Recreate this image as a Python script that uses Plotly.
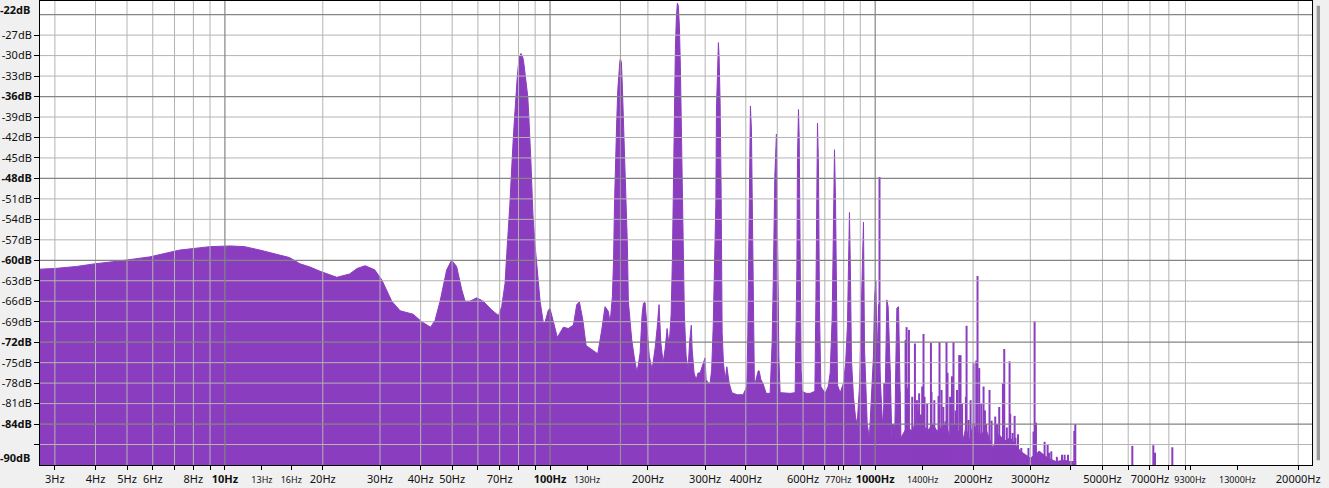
import math
import plotly.graph_objects as go

# ---------------- data ----------------
ENV_HZ = [2.70, 3.0, 3.5, 4.0, 4.75, 5.87, 7.27, 8.99, 10.4, 11.5, 12.8, 14.2, 15.8, 17.0, 18.3, 19.6,
          22.1, 24.2, 25.5, 27.0, 28.9, 30.4, 32.6, 34.6, 37.9, 40.3, 42.9, 44.3, 45.9, 48.1, 49.8, 51.6,
          53.5, 54.8, 56.7, 59.5, 62.3, 66.2, 69.4, 71.0, 72.7, 73.6, 74.4, 75.2, 75.9, 76.4, 77.1, 77.7,
          78.2, 78.8, 79.3, 80.1, 80.4, 81.4, 82.4, 83.0, 83.6, 84.4, 85.4, 86.0, 86.8, 87.4, 88.0, 88.6,
          89.9, 91.0, 92.0, 93.2, 95.4, 96.5, 98.8, 100.0, 102.4, 105.3, 109.9, 113.8, 118.0, 120.8, 123.1,
          126.1, 129.1, 134.4, 140.2, 144.2, 147.6, 151.2, 153.0, 155.5, 156.8, 157.8, 158.9, 160.4, 161.6,
          162.7, 163.9, 164.6, 165.8, 167.0, 168.2, 169.4, 170.6, 171.8, 173.0, 174.1, 178.4, 181.3, 184.8,
          186.6, 189.2, 191.9, 193.7, 196.0, 198.1, 202.0, 206.0, 210.3, 213.4, 216.4, 219.1, 222.7, 225.9,
          229.1, 232.4, 235.7, 237.8, 239.5, 241.2, 242.9, 244.6, 246.4, 248.1, 249.9, 251.7, 253.5, 255.3,
          257.1, 258.9, 262.1, 265.8, 268.6, 272.0, 273.5, 277.3, 281.3, 285.3, 289.4, 295.6, 299.8, 302.0,
          307.4, 310.8, 314.1, 317.5, 320.2, 323.5, 324.9, 327.2, 329.5, 331.1, 333.5, 335.9, 338.3, 341.4,
          345.5, 349.8, 355.5, 362.4, 376.2, 392.5, 402.9, 405.8, 408.7, 411.6, 413.3, 416.3, 419.2, 422.2,
          425.2, 432.5, 437.0, 439.6, 445.1, 451.4, 462.0, 475.2, 482.0, 486.5, 491.3, 496.9, 501.9, 505.5,
          510.1, 528.5, 547.7, 567.3, 572.0, 574.3, 576.7, 580.9, 583.8, 587.7, 591.9, 596.1, 613.4, 631.0,
          652.4, 657.0, 659.8, 664.5, 669.2, 674.0, 680.7, 701.7, 716.7, 727.0, 737.5, 744.3, 749.6, 755.0,
          760.4, 765.8, 780.4, 799.0, 811.4, 821.7, 827.5, 833.4, 839.3, 845.3, 857.4, 870.0, 880.4, 896.1,
          905.6, 914.0, 920.5, 927.1, 936.4, 944.9, 959.7, 976.9, 988.0, 995.1, 1005, 1014, 1024, 1031,
          1038, 1053, 1073, 1086, 1096, 1100, 1112, 1125, 1150, 1159, 1166, 1180, 1190, 1200, 1250, 1300,
          1350, 1400, 1450, 1500, 1550, 1600, 1650, 1700, 1750, 1800, 1850, 1900, 1950, 2000, 2100, 2200,
          2300, 2400, 2500, 2600, 2700, 2800, 2900, 3000, 3200, 3400, 3600, 3800, 4000, 4150]
ENV_DB = [-61.3, -61.2, -60.9, -60.5, -60.1, -59.5, -58.5, -58.0, -57.9, -58.0, -58.5, -59.0, -59.6, -60.5, -61.0, -61.6,
          -62.5, -62.0, -61.2, -60.8, -61.4, -62.9, -66.0, -67.4, -67.9, -69.0, -69.8, -68.8, -66.0, -61.4, -60.0, -60.9,
          -64.3, -66.0, -66.0, -65.5, -66.0, -67.3, -68.1, -66.8, -63.4, -59.0, -56.0, -52.0, -48.2, -45.0, -42.0, -39.4,
          -36.9, -34.7, -33.1, -30.9, -30.2, -29.7, -30.2, -31.0, -32.4, -34.0, -36.0, -38.6, -42.0, -45.9, -49.7, -53.3,
          -57.7, -60.9, -63.3, -66.0, -69.2, -69.1, -67.3, -67.1, -69.0, -71.3, -69.8, -70.0, -69.5, -66.5, -66.1,
          -68.7, -72.5, -73.1, -73.7, -70.2, -66.8, -67.5, -69.2, -65.3, -60.0, -52.0, -45.0, -39.4, -35.0,
          -32.4, -30.9, -30.5, -31.0, -35.0, -39.4, -43.8, -48.2, -53.0, -58.0, -66.0, -71.7, -74.0, -76.3,
          -75.5, -73.6, -68.0, -66.3, -66.2, -69.0, -74.1, -76.0, -73.0, -70.0, -66.5, -72.0, -75.0, -73.0,
          -70.0, -72.5, -68.0, -60.0, -49.2, -37.4, -29.1, -24.5, -22.3, -22.7, -25.7, -31.6, -42.3, -50.1,
          -60.0, -68.0, -74.0, -76.0, -72.0, -69.5, -73.0, -76.5, -77.5, -76.5, -76.5, -75.0, -74.3, -77.5,
          -78.0, -78.0, -76.0, -69.8, -60.0, -51.9, -37.9, -30.3, -28.1, -30.2, -37.0, -50.0, -70.6, -75.0,
          -77.5, -75.6, -78.0, -79.4, -79.7, -79.7, -78.5, -70.7, -54.3, -41.9, -37.4, -40.9, -53.3, -69.5,
          -78.5, -77.0, -76.2, -76.2, -77.5, -78.0, -79.5, -79.5, -72.0, -61.4, -47.7, -41.5, -58.0, -74.1,
          -79.4, -79.5, -79.5, -79.4, -70.0, -61.1, -45.3, -37.9, -42.0, -60.0, -76.0, -79.2, -79.5, -79.5,
          -79.2, -66.3, -48.7, -39.9, -46.0, -67.3, -78.5, -79.5, -78.5, -76.5, -68.3, -54.1, -43.8, -51.1,
          -70.9, -78.3, -79.4, -78.0, -75.0, -69.5, -61.2, -53.0, -62.0, -74.6, -80.0, -83.0, -84.0, -78.0,
          -67.7, -61.7, -54.4, -72.9, -80.0, -84.0, -86.0, -79.4, -73.9, -65.6, -63.1, -75.0, -66.5, -75.0,
          -77.5, -84.0, -80.0, -65.8, -66.8, -70.2, -76.0, -86.0, -84.0, -73.4, -67.0, -66.8, -79.3, -86.0, -84.5, -85.0,
          -83.0, -84.0, -85.0, -84.0, -85.0, -84.5, -84.0, -86.0, -84.0, -85.0, -87.0, -84.5, -86.5, -84.0, -85.5, -85.0,
          -87.5, -85.5, -86.5, -86.0, -87.0, -88.0, -88.5, -89.0, -88.0, -89.0, -89.5, -89.3, -89.5, -89.5]

SPIKE_HZ = [1031, 1066, 1106, 1134, 1187, 1240, 1249, 1260, 1270, 1300, 1325, 1344, 1357, 1365, 1382, 1395,
            1408, 1418, 1445, 1484, 1490, 1520, 1566, 1577, 1600, 1620, 1645, 1657, 1669, 1700, 1722, 1741,
            1767, 1785, 1813, 1830, 1850, 1901, 1910, 1937, 1965, 2007, 2046, 2064, 2089, 2120, 2154, 2175,
            2195, 2247, 2280, 2340, 2370, 2407, 2471, 2494, 2540, 2590, 2602, 2646, 2684, 2700, 2749, 2814,
            2894, 2960, 3069, 3092, 3122, 3190, 3319, 3391, 3423, 3480, 3620, 3754, 3825, 3917, 4096, 4125,
            6177, 7168, 7253, 8201]
SPIKE_DB = [-47.8, -78.0, -76.0, -84.0, -79.3, -71.7, -69.8, -78.7, -70.2, -80.0, -72.2, -80.5, -82.0, -79.5, -82.6, -78.5,
            -70.8, -80.0, -81.0, -72.1, -79.3, -80.5, -79.9, -72.0, -79.0, -81.5, -83.6, -72.0, -76.5, -80.0, -77.0, -72.0,
            -82.0, -79.0, -73.9, -73.9, -81.0, -80.0, -69.6, -83.4, -80.5, -75.1, -74.7, -62.3, -75.8, -81.0, -78.5, -82.0,
            -84.0, -79.0, -83.5, -82.9, -84.0, -81.5, -78.0, -73.0, -84.5, -74.8, -82.5, -85.3, -82.8, -86.0, -85.5, -87.5,
            -88.5, -87.5, -85.1, -68.9, -83.8, -88.0, -86.6, -87.0, -88.2, -88.0, -88.8, -88.5, -88.5, -88.5, -85.0, -84.0,
            -87.2, -87.1, -88.2, -87.4]

X_TICK_HZ = [3, 4, 5, 6, 7, 8, 9, 10, 13, 16, 20, 30, 40, 50, 60, 70, 80, 90, 100, 130, 200, 300, 400, 500,
             600, 700, 770, 800, 900, 1000, 1400, 2000, 3000, 4000, 5000, 6000, 7000, 8000, 9000, 9300,
             13000, 20000]
X_TICK_TEXT = ["3Hz", "4Hz", "5Hz", "6Hz", "", "8Hz", "", "10Hz", "13Hz", "16Hz", "20Hz", "30Hz", "40Hz",
               "50Hz", "", "70Hz", "", "", "100Hz", "130Hz", "200Hz", "300Hz", "400Hz", "", "600Hz", "",
               "770Hz", "", "", "1000Hz", "1400Hz", "2000Hz", "3000Hz", "", "5000Hz", "", "7000Hz", "", "",
               "9300Hz", "13000Hz", "20000Hz"]
X_BOLD = ["10Hz", "100Hz", "1000Hz"]
X_SMALL = ["13Hz", "16Hz", "130Hz", "770Hz", "1400Hz", "9300Hz", "13000Hz"]

GRID_HZ_MINOR = [3, 4, 5, 6, 7, 8, 9, 20, 30, 40, 50, 60, 70, 80, 90, 200, 300, 400, 500, 600, 700, 800, 900,
                 2000, 3000, 4000, 5000, 6000, 7000, 8000, 9000, 20000]
GRID_HZ_MAJOR = [10, 100, 1000]
CURSOR_HZ = [164.6]

Y_TICK_DB = [-87, -84, -81, -78, -75, -72, -69, -66, -63, -60, -57, -54, -51, -48, -45, -42, -39, -36, -33, -30, -27]
Y_MAJOR_DB = [-84, -72, -60, -48, -36, -24]
Y_MINOR_DB = [-87, -81, -78, -75, -69, -66, -63, -57, -54, -51, -45, -42, -39, -33, -30, -27]

F_MIN, F_MAX = 2.70, 22050
DB_MIN, DB_MAX = -90, -22
FLOOR = -100

PURPLE = "#8b3dbf"
FONT = "Noto Sans"

# ---------------- figure ----------------
fig = go.Figure()

fig.add_trace(go.Scatter(x=ENV_HZ, y=[FLOOR] * len(ENV_HZ), mode="lines",
                         line=dict(width=0, color=PURPLE), hoverinfo="skip", showlegend=False))
fig.add_trace(go.Scatter(x=ENV_HZ, y=ENV_DB, mode="lines", fill="tonexty", fillcolor=PURPLE,
                         line=dict(width=1, color=PURPLE), hoverinfo="skip", showlegend=False))

sx, sy = [], []
for f, d in zip(SPIKE_HZ, SPIKE_DB):
    sx += [f, f, None]
    sy += [FLOOR, d, None]
fig.add_trace(go.Scatter(x=sx, y=sy, mode="lines", line=dict(width=2, color=PURPLE),
                         hoverinfo="skip", showlegend=False))


def vlines(freqs, color, width):
    xs, ys = [], []
    for f in freqs:
        xs += [f, f, None]
        ys += [DB_MIN, DB_MAX, None]
    fig.add_trace(go.Scatter(x=xs, y=ys, mode="lines", line=dict(width=width, color=color),
                             hoverinfo="skip", showlegend=False))


def hlines(dbs, color, width):
    xs, ys = [], []
    for d in dbs:
        xs += [F_MIN, F_MAX, None]
        ys += [d, d, None]
    fig.add_trace(go.Scatter(x=xs, y=ys, mode="lines", line=dict(width=width, color=color),
                             hoverinfo="skip", showlegend=False))


hlines(Y_MINOR_DB, "#b4b4b4", 1)
vlines(GRID_HZ_MINOR, "#b4b4b4", 1)
vlines(CURSOR_HZ, "#9a9a9a", 1)
hlines(Y_MAJOR_DB, "#858585", 1.2)
vlines(GRID_HZ_MAJOR, "#858585", 1.2)


def fmt_x(t):
    if t in X_BOLD:
        return "<b>%s</b>" % t
    if t in X_SMALL:
        return '<span style="font-size:9px">%s</span>' % t
    return t


def fmt_y(d):
    if d == -87:
        return ""
    txt = "%ddB" % d
    return "<b>%s</b>" % txt if d in Y_MAJOR_DB else txt


fig.update_xaxes(type="log", range=[math.log10(F_MIN), math.log10(F_MAX)],
                 showgrid=False, zeroline=False, showline=True, mirror=True,
                 linecolor="black", linewidth=1, ticks="outside", ticklen=4, tickcolor="black",
                 tickvals=X_TICK_HZ, ticktext=[fmt_x(t) for t in X_TICK_TEXT],
                 tickfont=dict(family=FONT, size=11, color="#111111"), tickangle=0)
fig.update_yaxes(range=[DB_MIN, DB_MAX], showgrid=False, zeroline=False, showline=True, mirror=True,
                 linecolor="black", linewidth=1, ticks="outside", ticklen=5, tickcolor="black",
                 tickvals=Y_TICK_DB, ticktext=[fmt_y(d) for d in Y_TICK_DB],
                 tickfont=dict(family=FONT, size=11, color="#111111"))

fig.add_annotation(x=-0.006, y=0.981, xref="paper", yref="paper", xanchor="right", yanchor="middle",
                   text="<b>%ddB</b>" % DB_MAX, showarrow=False,
                   font=dict(family=FONT, size=11, color="#111111"))
fig.add_annotation(x=-0.006, y=0.017, xref="paper", yref="paper", xanchor="right", yanchor="middle",
                   text="<b>%ddB</b>" % DB_MIN, showarrow=False,
                   font=dict(family=FONT, size=11, color="#111111"))

# scrollbar at the right edge
fig.add_shape(type="rect", xref="paper", yref="paper", x0=1.0037, x1=1.0063, y0=0.01, y1=0.99,
              fillcolor="#999999", line=dict(width=0))

fig.update_layout(width=1329, height=488, margin=dict(l=40, r=17, t=1, b=23),
                  paper_bgcolor="#f0f0f0", plot_bgcolor="white", showlegend=False,
                  hovermode=False)

fig.write_html("out.html", config={"displayModeBar": False},
               post_script="document.body.style.margin='0px';")
